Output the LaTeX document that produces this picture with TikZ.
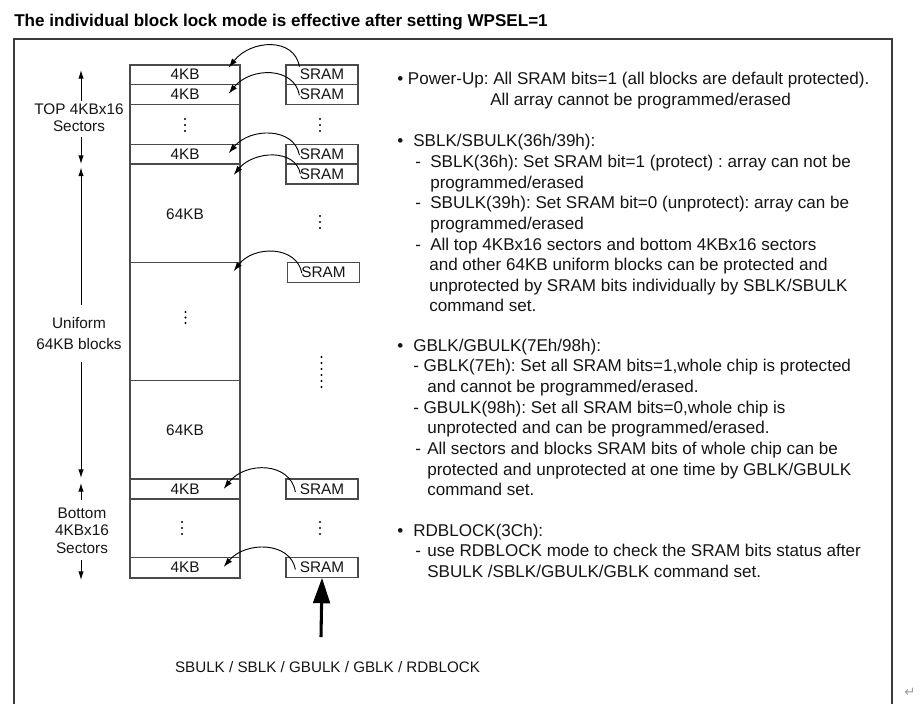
\documentclass[tikz,border=0pt]{standalone}
\usepackage{fontspec}
\setmainfont{Liberation Sans}
\newfontfamily\dejavu{DejaVu Sans}
\usetikzlibrary{arrows.meta,calc}
\definecolor{linec}{HTML}{4A4A4A}
\definecolor{txtc}{HTML}{151515}
\definecolor{framec}{HTML}{3A3A3A}
\frenchspacing
\begin{document}
\begin{tikzpicture}[x=0.75pt,y=-0.75pt,
  txt/.style={anchor=base west,inner sep=0pt,text=txtc,font=\fontsize{12.8}{14}\selectfont},
  lbl/.style={inner sep=0pt,text=txtc,align=center,font=\fontsize{11.5}{12.75}\selectfont},
  blk/.style={draw=linec,line width=0.9pt,minimum width=82.5pt,inner sep=0pt,text=txtc,font=\fontsize{11.5}{13}\selectfont},
  sram/.style={draw=linec,line width=0.9pt,minimum width=54pt,inner sep=0pt,text=txtc,font=\fontsize{11.5}{13}\selectfont},
  curv/.style={-{Latex[length=7pt,width=4.5pt]},line width=0.7pt,black},
  larr/.style={-{Latex[length=6.5pt,width=4pt]},line width=0.7pt,black},
  dotc/.style={fill=black,draw=none}
]
\useasboundingbox (0,0) rectangle (924,704);
% title and frame
\node[anchor=base west,inner sep=0pt,font=\fontsize{12.8}{14}\selectfont\bfseries] (title) at (14,26) {The individual block lock mode is effective after setting WPSEL=1};
\draw[framec,line width=1.3pt] (14,704) -- (14,39) -- (892,39) -- (892,704);
\node[inner sep=0pt,text=black!40,font=\dejavu\fontsize{10}{12}\selectfont] (ret) at (910,692) {↵};

% block column
\node[draw=linec,line width=0.9pt,minimum width=82.5pt,minimum height=384.75pt,inner sep=0pt] (col) at (185,321.5) {};
\node[blk,minimum height=14.5pt] (b1) at (185,74.7) {4KB};
\node[blk,minimum height=15pt] (b2) at (185,94.3) {4KB};
\node[blk,minimum height=14.8pt] (b3) at (185,154.2) {4KB};
\node[blk,minimum height=15pt] (b6) at (185,489) {4KB};
\node[blk,minimum height=14.7pt] (b7) at (185,567.5) {4KB};
\draw[linec,line width=0.9pt] (col.west |- 0,262.3) -- (col.east |- 0,262.3);
\draw[linec,line width=0.9pt] (col.west |- 0,380.7) -- (col.east |- 0,380.7);
\node[inner sep=0pt,text=txtc,font=\fontsize{11.5}{13}\selectfont] (k1) at (185,214) {64KB};
\node[inner sep=0pt,text=txtc,font=\fontsize{11.5}{13}\selectfont] (k2) at (185,430) {64KB};

% SRAM boxes
\node[sram,minimum height=14.5pt] (s1) at (322,74.7) {SRAM};
\node[sram,minimum height=15pt] (s2) at (322,94.3) {SRAM};
\node[sram,minimum height=14.8pt] (s3) at (322,154.2) {SRAM};
\node[sram,minimum height=15pt] (s4) at (322,174) {SRAM};
\node[sram,minimum height=15pt] (s5) at (323.5,272.3) {SRAM};
\node[sram,minimum height=15pt] (s6) at (322,489) {SRAM};
\node[sram,minimum height=14.7pt] (s7) at (322,567.5) {SRAM};

% dots
\foreach \y in {119,125,131} {\fill[dotc] (185,\y) circle (1.2); \fill[dotc] (320,\y) circle (1.2);}
\foreach \y in {312,317.5,323} {\fill[dotc] (185.5,\y) circle (1.2);}
\foreach \y in {216,222,228} {\fill[dotc] (320,\y) circle (1.2);}
\foreach \y in {357,363,369,375,381,387} {\fill[dotc] (321.5,\y) circle (1.2);}
\foreach \y in {522,528,534} {\fill[dotc] (182,\y) circle (1.2); \fill[dotc] (320,\y) circle (1.2);}

% curved arrows
\draw[curv] ($(s1.west)+(14,-8)$) .. controls +(-5,-30) and +(22,-28) .. ($(b1.east)+(-12,-7)$);
\draw[curv] ($(s2.west)+(14,1)$) .. controls +(-5,-29) and +(22,-27) .. ($(b2.east)+(-12,-0.5)$);
\draw[curv] ($(s3.west)+(14,1)$) .. controls +(-5,-28) and +(22,-26) .. ($(b3.east)+(-12,-1)$);
\draw[curv] ($(s4.west)+(15,0)$) .. controls +(-5,-26) and +(20,-24) .. ($(col.east |- s4.west)+(-7,1)$);
\draw[curv] ($(s5.west)+(15,1)$) .. controls +(-5,-28) and +(20,-26) .. ($(col.east |- s5.west)+(-7,-1)$);
\draw[curv] ($(s6.west)+(10,3)$) .. controls +(-5,-30) and +(22,-28) .. ($(b6.east)+(-17,0)$);
\draw[curv] ($(s7.west)+(10,2)$) .. controls +(-5,-28) and +(22,-26) .. ($(b7.east)+(-17,-0.5)$);

% big arrow and command label
\coordinate (cmdtail) at (321,637);
\draw[-{Triangle[length=19pt,width=12.5pt]},line width=2.3pt,black] (cmdtail) -- (s7.south);
\node[inner sep=0pt,text=txtc,font=\fontsize{11.4}{14}\selectfont] (cmd) at (327.5,667) {SBULK / SBLK / GBULK / GBLK / RDBLOCK};

% left labels
\node[lbl] (tl) at (79,117.5) {TOP 4KBx16\\Sectors};
\node[lbl,font=\fontsize{11.5}{16}\selectfont] (ul) at (79,333.5) {Uniform\\64KB blocks};
\node[lbl,font=\fontsize{11.5}{13.2}\selectfont] (bl) at (82,530.5) {Bottom\\4KBx16\\Sectors};
\coordinate (la1s) at (81,101); \coordinate (la1e) at (81,70);
\coordinate (la2s) at (81,137); \coordinate (la2e) at (81,164);
\coordinate (la3s) at (81,305); \coordinate (la3e) at (81,167.5);
\coordinate (la4s) at (81,362); \coordinate (la4e) at (81,478);
\coordinate (la5s) at (81,500); \coordinate (la5e) at (81,483);
\coordinate (la6s) at (81,560); \coordinate (la6e) at (81,580);
\foreach \i in {1,...,6} {\draw[larr] (la\i s) -- (la\i e);}

% right-hand text
\node[txt] (t1) at (397,84.3) {• Power-Up: All SRAM bits=1 (all blocks are default protected).};
\node[txt] (t2) at (490,105) {All array cannot be programmed/erased};

\node[txt] (u1) at (397,146.5) {•};
\node[txt] (t3) at (413,146.5) {SBLK/SBULK(36h/39h):};
\node[txt] (d1) at (415,167) {-};
\node[txt] (t4) at (430,167) {SBLK(36h): Set SRAM bit=1 (protect) : array can not be};
\node[txt] (t5) at (430,188) {programmed/erased};
\node[txt] (d2) at (415,208.5) {-};
\node[txt] (t6) at (430,208.5) {SBULK(39h): Set SRAM bit=0 (unprotect): array can be};
\node[txt] (t7) at (430,229) {programmed/erased};
\node[txt] (d3) at (415,250) {-};
\node[txt] (t8) at (430,250) {All top 4KBx16 sectors and bottom 4KBx16 sectors};
\node[txt] (t9) at (429,270.5) {and other 64KB uniform blocks can be protected and};
\node[txt] (t10) at (429,291) {unprotected by SRAM bits individually by SBLK/SBULK};
\node[txt] (t11) at (429,311.5) {command set.};

\node[txt] (u2) at (397,351) {•};
\node[txt] (t12) at (413,351) {GBLK/GBULK(7Eh/98h):};
\node[txt] (t13) at (413,371.6) {- GBLK(7Eh): Set all SRAM bits=1,whole chip is protected};
\node[txt] (t14) at (427,392) {and cannot be programmed/erased.};
\node[txt] (t15) at (413,413) {- GBULK(98h): Set all SRAM bits=0,whole chip is};
\node[txt] (t16) at (427,433.5) {unprotected and can be programmed/erased.};
\node[txt] (d4) at (415,454) {-};
\node[txt] (t17) at (427,454) {All sectors and blocks SRAM bits of whole chip can be};
\node[txt] (t18) at (427,475) {protected and unprotected at one time by GBLK/GBULK};
\node[txt] (t19) at (427,495.5) {command set.};

\node[txt] (u3) at (397,536) {•};
\node[txt] (t20) at (413,536) {RDBLOCK(3Ch):};
\node[txt] (d5) at (415,556.5) {-};
\node[txt] (t21) at (427,556.5) {use RDBLOCK mode to check the SRAM bits status after};
\node[txt] (t22) at (427,577) {SBULK /SBLK/GBULK/GBLK command set.};
\end{tikzpicture}
\end{document}
